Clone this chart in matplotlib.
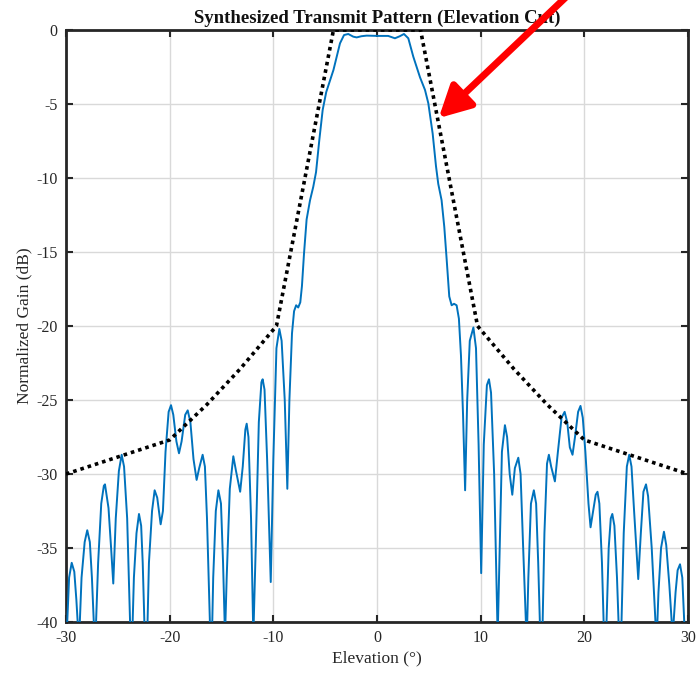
import matplotlib
matplotlib.use("Agg")
import matplotlib.pyplot as plt
import numpy as np

plt.rcParams['font.family'] = ['Liberation Serif', 'DejaVu Serif']
plt.rcParams['axes.unicode_minus'] = False

title = "Synthesized Transmit Pattern (Elevation Cut)"
xlabel = "Elevation (°)"
ylabel = "Normalized Gain (dB)"

x_ticks = [-30, -20, -10, 0, 10, 20, 30]
y_ticks = [-40, -35, -30, -25, -20, -15, -10, -5, 0]

# Synthesized pattern
elev = [-30.0, -29.7, -29.45, -29.2, -29.0, -28.75, -28.5, -28.2, -27.95, -27.7,
        -27.5, -27.2, -26.9, -26.6, -26.35, -26.24, -25.9, -25.65, -25.44, -25.2,
        -24.9, -24.63, -24.4, -24.1, -23.8, -23.65, -23.45, -23.2, -22.96, -22.75,
        -22.6, -22.4, -22.2, -22.0, -21.7, -21.45, -21.2, -20.87, -20.65, -20.4,
        -20.1, -19.87, -19.65, -19.35, -19.1, -18.85, -18.5, -18.26, -18.0, -17.7,
        -17.4, -17.15, -16.82, -16.6, -16.4, -16.1, -15.95, -15.8, -15.55, -15.3,
        -15.05, -14.85, -14.66, -14.5, -14.2, -13.86, -13.6, -13.2, -12.95, -12.7,
        -12.57, -12.4, -12.15, -11.93, -11.7, -11.4, -11.15, -11.03, -10.85, -10.6,
        -10.25, -10.0, -9.7, -9.42, -9.2, -8.9, -8.65, -8.45, -8.2, -8.0,
        -7.8, -7.6, -7.4, -7.24, -7.04, -6.79, -6.46, -6.15, -5.88, -5.56,
        -5.24, -4.9, -4.53, -4.2, -3.89, -3.57, -3.18, -2.77, -2.29, -1.96,
        -1.5, -1.0, 0.1, 1.08, 1.73, 2.2, 2.6, 3.02, 3.5, 4.15,
        4.63, 4.95, 5.37, 5.69, 5.91, 6.23, 6.49, 6.72, 6.97, 7.2,
        7.43, 7.68, 7.9, 8.1, 8.3, 8.5, 8.7, 8.95, 9.3, 9.55,
        9.8, 10.05, 10.3, 10.6, 10.8, 11.0, 11.3, 11.64, 11.8, 12.05,
        12.34, 12.55, 12.8, 13.05, 13.3, 13.63, 13.85, 14.1, 14.44, 14.6,
        14.85, 15.13, 15.35, 15.55, 15.75, 15.95, 16.15, 16.4, 16.58, 16.8,
        17.16, 17.45, 17.8, 18.1, 18.35, 18.6, 18.86, 19.1, 19.4, 19.63,
        19.85, 20.1, 20.4, 20.6, 20.85, 21.1, 21.27, 21.45, 21.7, 21.9,
        22.1, 22.35, 22.55, 22.7, 22.9, 23.15, 23.35, 23.55, 23.8, 24.1,
        24.33, 24.55, 24.8, 25.2, 25.45, 25.7, 25.95, 26.15, 26.5, 26.97,
        27.15, 27.4, 27.68, 27.9, 28.2, 28.52, 28.8, 29.0, 29.23, 29.45,
        29.7, 30.0]
gain = [-42.0, -37.0, -36.0, -36.6, -38.5, -41.5, -37.0, -34.6, -33.8, -34.6,
        -37.0, -42.0, -36.0, -32.0, -30.8, -30.7, -32.3, -35.0, -37.4, -33.0,
        -29.8, -28.7, -29.5, -33.0, -40.5, -42.0, -37.0, -34.0, -32.7, -33.5,
        -36.0, -41.0, -42.0, -36.0, -32.5, -31.1, -31.6, -33.4, -32.5, -28.5,
        -25.8, -25.35, -26.0, -27.8, -28.6, -27.8, -26.0, -25.7, -26.5, -29.0,
        -30.4, -29.6, -28.7, -29.5, -33.0, -40.5, -42.0, -37.0, -32.5, -31.1,
        -32.0, -36.0, -41.0, -37.0, -31.0, -28.8, -29.8, -31.2, -29.5, -27.0,
        -26.6, -27.5, -33.0, -41.0, -35.0, -26.5, -23.8, -23.6, -24.3, -29.0,
        -37.3, -29.0, -21.5, -20.2, -21.0, -25.0, -31.0, -25.0, -20.5, -19.0,
        -18.6, -18.75, -18.4, -17.3, -15.1, -12.8, -11.5, -10.6, -9.6, -7.4,
        -5.4, -4.2, -3.4, -2.7, -1.8, -0.9, -0.34, -0.27, -0.45, -0.5,
        -0.42, -0.38, -0.4, -0.4, -0.56, -0.42, -0.27, -0.56, -1.8, -3.2,
        -4.05, -4.95, -7.0, -9.2, -10.4, -11.5, -13.3, -15.5, -18.0, -18.6,
        -18.5, -18.6, -19.5, -22.0, -26.0, -31.1, -25.0, -21.0, -20.1, -21.5,
        -28.0, -36.7, -28.0, -24.0, -23.6, -24.5, -30.0, -41.0, -36.0, -28.5,
        -26.7, -27.5, -30.0, -31.4, -29.6, -28.9, -30.0, -35.0, -41.5, -37.0,
        -32.0, -31.1, -32.0, -36.0, -41.0, -41.0, -34.0, -29.3, -28.7, -29.5,
        -30.5, -28.5, -26.2, -25.8, -26.5, -28.2, -28.7, -27.5, -25.8, -25.4,
        -26.2, -28.5, -32.0, -33.6, -32.5, -31.4, -31.2, -32.0, -36.0, -41.0,
        -41.0, -35.0, -33.0, -32.7, -33.5, -37.0, -41.0, -41.0, -34.0, -29.5,
        -28.7, -29.5, -32.5, -37.1, -34.0, -31.2, -30.7, -31.5, -35.0, -41.5,
        -38.0, -35.0, -33.9, -34.8, -37.5, -41.0, -38.0, -36.5, -36.1, -37.0,
        -41.0, -43.0]

# Mask (dotted envelope)
mask_x = [-30, -20, -16.4, -13.2, -9.7, -4.2, 4.2, 9.7, 13.2, 16.4, 20, 30]
mask_y = [-30, -27.7, -25.3, -22.9, -20, 0, 0, -20, -22.9, -25.3, -27.7, -30]

# Arrow (data coords): tip and tail
arrow_tip = (5.95, -5.95)
arrow_tail = (20.6, 3.8)

fig = plt.figure(figsize=(6.97, 6.73), dpi=100)
ax = fig.add_axes([66/697, 1-622/673, (688-66)/697, (622-30)/673])

ax.grid(True, color='#d9d9d9', linewidth=1.0)
ax.set_axisbelow(True)

ax.plot(elev, gain, color='#0072BD', linewidth=1.4, zorder=3)
ax.plot(mask_x, mask_y, color='black', linewidth=2.6, linestyle=(0, (1, 1.1)), zorder=4)

ax.set_xlim(-30, 30)
ax.set_ylim(-40, 0)
ax.set_xticks(x_ticks)
ax.set_yticks(y_ticks)
ax.set_xticklabels([str(t) for t in x_ticks])
ax.set_yticklabels([str(t) for t in y_ticks])
ax.tick_params(direction='in', length=5, width=1.5, top=True, right=True,
               labelsize=11.5, colors='#262626', pad=6)
for s in ax.spines.values():
    s.set_linewidth(2.0)
    s.set_color('#262626')

ax.set_title(title, fontsize=13.5, fontweight='bold', pad=5, color='#111111')
ax.set_xlabel(xlabel, fontsize=12.5, color='#262626', labelpad=3)
ax.set_ylabel(ylabel, fontsize=12.5, color='#262626', labelpad=3)

ax.annotate('', xy=arrow_tip, xytext=arrow_tail, xycoords='data', textcoords='data',
            annotation_clip=False,
            arrowprops=dict(arrowstyle='-|>,head_length=1.9,head_width=1.0',
                            color='#FF0000', lw=5, shrinkA=0, shrinkB=0),
            zorder=6)

fig.savefig('out.png', dpi=100)
